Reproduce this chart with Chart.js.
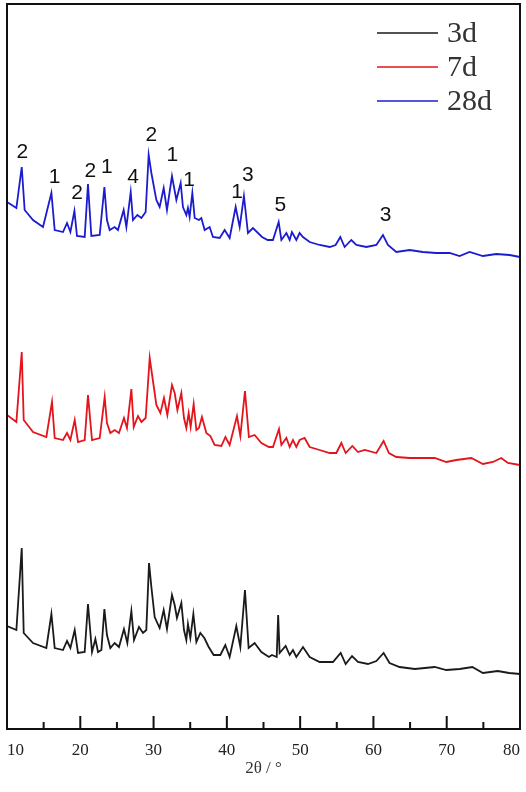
<!DOCTYPE html>
<html>
<head>
<meta charset="utf-8">
<script src="https://cdn.jsdelivr.net/npm/chart.js@4.4.1/dist/chart.umd.min.js"></script>
<style>
  html, body { margin: 0; padding: 0; background: #fff; }
  #wrap { width: 526px; height: 792px; }
</style>
</head>
<body>
<div id="wrap"><canvas id="chartXrd"></canvas></div>
<script>
// XRD patterns, curves stacked (intensity in a.u.)
const seriesLabels = ["3d", "7d", "28d"];
const seriesColors = ["#1a1a1a", "#e3141b", "#1c1ccf"];

const theta3d = [10, 11.28, 12.01, 12.28, 13.55, 15.37, 16.06, 16.51, 17.64, 18.19, 18.65, 19.24, 19.69, 20.6, 21.05, 21.6, 22.06, 22.42, 22.88, 23.29, 23.64, 24.1, 24.69, 25.28, 25.96, 26.42, 26.97, 27.33, 28.01, 28.56, 29.01, 29.38, 29.7, 30.15, 30.83, 31.38, 31.83, 32.51, 32.88, 33.19, 33.79, 34.15, 34.47, 34.69, 35.02, 35.43, 35.84, 36.38, 36.93, 37.52, 38.2, 39.11, 39.79, 40.38, 41.29, 41.84, 42.47, 42.97, 43.79, 44.71, 45.74, 46.15, 46.8, 47.0, 47.2, 48.02, 48.57, 49.02, 49.48, 50.39, 51.3, 52.66, 54.48, 55.53, 56.21, 57.08, 57.89, 59.25, 60.4, 61.39, 62.2, 63.57, 65.65, 68.35, 69.95, 71.77, 73.5, 74.94, 76.95, 78.53, 80];
const int3d = [103, 99, 181, 96, 86, 81, 115, 81, 79, 88, 81, 99, 76, 77, 125, 77, 90, 77, 79, 120, 94, 81, 86, 82, 100, 86, 118, 89, 102, 96, 99, 166, 142, 112, 101, 119, 100, 134, 124, 111, 126, 99, 89, 105, 91, 115, 87, 96, 91, 82, 74, 74, 84, 72, 103, 82, 139, 81, 86, 77, 72, 74, 72, 114, 76, 83, 74, 79, 72, 82, 72, 67, 67, 76, 65, 73, 67, 65, 68, 76, 66, 62, 60, 62, 59, 60, 62, 56, 58, 56, 55];

const theta7d = [10, 11.28, 12.01, 12.28, 13.55, 15.37, 16.14, 16.51, 17.64, 18.19, 18.65, 19.24, 19.69, 20.6, 21.05, 21.6, 22.65, 23.33, 23.64, 24.1, 24.69, 25.28, 25.96, 26.37, 26.97, 27.29, 27.87, 28.34, 28.92, 29.47, 29.84, 30.38, 30.93, 31.42, 31.88, 32.51, 32.88, 33.25, 33.79, 34.15, 34.47, 34.79, 35.06, 35.47, 35.84, 36.19, 36.6, 37.2, 37.75, 38.33, 39.25, 39.8, 40.38, 41.38, 41.84, 42.47, 43.01, 43.79, 44.71, 45.74, 46.29, 47.11, 47.44, 48.12, 48.57, 49.02, 49.48, 49.93, 50.61, 51.3, 52.66, 54.03, 54.94, 55.62, 56.21, 57.12, 57.89, 58.8, 60.4, 61.39, 62.11, 63.12, 64.94, 66.75, 68.35, 69.95, 71.31, 73.36, 74.94, 76.3, 77.45, 78.35, 80];
const int7d = [314, 307, 377, 309, 297, 292, 327, 291, 289, 296, 289, 309, 287, 289, 334, 289, 291, 332, 306, 296, 299, 296, 311, 301, 340, 302, 313, 307, 311, 371, 352, 324, 316, 331, 314, 344, 336, 319, 336, 311, 301, 316, 302, 325, 299, 301, 312, 296, 293, 284, 283, 292, 284, 313, 293, 338, 292, 294, 286, 282, 282, 300, 284, 291, 282, 289, 282, 289, 291, 282, 279, 276, 276, 286, 276, 283, 277, 279, 276, 288, 276, 272, 271, 271, 271, 267, 269, 271, 265, 267, 271, 266, 264];

const theta28d = [10, 11.28, 12.01, 12.41, 13.55, 14.91, 16.06, 16.51, 17.64, 18.19, 18.65, 19.2, 19.55, 20.6, 21.05, 21.51, 22.65, 23.29, 23.64, 24.01, 24.69, 25.14, 25.92, 26.29, 26.88, 27.19, 27.79, 28.34, 28.92, 29.33, 29.7, 30.38, 30.83, 31.38, 31.83, 32.51, 33.11, 33.7, 34.01, 34.47, 34.69, 34.92, 35.29, 35.61, 36.19, 36.52, 36.97, 37.65, 38.1, 39.02, 39.7, 40.38, 41.2, 41.75, 42.33, 42.88, 43.56, 44.8, 45.57, 46.29, 47.07, 47.44, 48.12, 48.57, 48.88, 49.48, 49.93, 50.38, 51.3, 52.66, 54.03, 54.84, 55.48, 56.07, 56.98, 57.67, 59.03, 60.4, 61.3, 61.98, 63.12, 64.94, 66.75, 68.58, 70.39, 71.76, 73.12, 74.94, 76.77, 78.58, 80];
const int28d = [527, 521, 562, 519, 509, 502, 536, 499, 497, 506, 497, 518, 493, 492, 545, 493, 494, 542, 509, 499, 502, 499, 519, 502, 537, 509, 514, 511, 517, 574, 556, 529, 522, 541, 519, 553, 529, 546, 522, 514, 521, 512, 536, 511, 509, 511, 499, 502, 492, 491, 499, 491, 522, 502, 533, 496, 501, 492, 489, 489, 507, 489, 496, 489, 497, 489, 496, 492, 487, 484, 482, 484, 492, 482, 489, 484, 482, 484, 494, 484, 477, 479, 477, 476, 476, 473, 477, 473, 475, 474, 472];

// phase labels above the 28d pattern
const peakTheta = [12.1, 16.5, 19.55, 21.38, 23.64, 27.19, 29.7, 32.56, 34.83, 41.38, 42.88, 47.3, 61.66];
const peakLevel = [577, 552, 536, 558, 562, 552, 594, 574, 549, 537, 554, 524, 514];
const peakText = ["2", "1", "2", "2", "1", "4", "2", "1", "1", "1", "3", "5", "3"];

const xTicksMajor = [10, 20, 30, 40, 50, 60, 70, 80];
const xTicksMinor = [15, 25, 35, 45, 55, 65, 75];

function pts(xs, ys) {
  return xs.map((x, i) => ({ x: x, y: ys[i] }));
}

const framePlugin = {
  id: "frame",
  afterDraw(chart) {
    const { ctx, chartArea: a, scales } = chart;
    const xs = scales.x;
    ctx.save();
    ctx.strokeStyle = "#111";
    ctx.lineWidth = 2;
    ctx.strokeRect(a.left, a.top, a.right - a.left, a.bottom - a.top);
    // inward tick marks
    ctx.beginPath();
    xTicksMajor.forEach(v => {
      const px = xs.getPixelForValue(v);
      ctx.moveTo(px, a.bottom);
      ctx.lineTo(px, a.bottom - 13);
    });
    xTicksMinor.forEach(v => {
      const px = xs.getPixelForValue(v);
      ctx.moveTo(px, a.bottom);
      ctx.lineTo(px, a.bottom - 7);
    });
    ctx.stroke();

    // peak labels
    ctx.fillStyle = "#111";
    ctx.font = "21px 'Liberation Sans', Arial, sans-serif";
    ctx.textAlign = "center";
    ctx.textBaseline = "middle";
    peakText.forEach((t, i) => {
      ctx.fillText(t, xs.getPixelForValue(peakTheta[i]), scales.y.getPixelForValue(peakLevel[i]));
    });

    // legend
    ctx.font = "30px 'Liberation Serif', 'Times New Roman', serif";
    ctx.textAlign = "left";
    chart.data.datasets.forEach((ds, i) => {
      const y = a.top + 29 + i * 34;
      ctx.strokeStyle = ds.borderColor;
      ctx.lineWidth = 1.3;
      ctx.beginPath();
      ctx.moveTo(a.right - 143, y);
      ctx.lineTo(a.right - 82, y);
      ctx.stroke();
      ctx.fillStyle = "#333";
      ctx.fillText(ds.label, a.right - 73, y + 1);
    });
    ctx.restore();
  }
};

const ctx = document.getElementById("chartXrd").getContext("2d");
const chart = new Chart(ctx, {
  type: "line",
  data: {
    datasets: [
      { label: seriesLabels[0], data: pts(theta3d, int3d), borderColor: seriesColors[0] },
      { label: seriesLabels[1], data: pts(theta7d, int7d), borderColor: seriesColors[1] },
      { label: seriesLabels[2], data: pts(theta28d, int28d), borderColor: seriesColors[2] }
    ]
  },
  options: {
    responsive: true,
    maintainAspectRatio: false,
    animation: false,
    layout: { padding: { top: 4, left: 7, right: 6, bottom: 11 } },
    elements: {
      line: { borderWidth: 1.8, tension: 0 },
      point: { radius: 0 }
    },
    scales: {
      x: {
        type: "linear",
        min: 10,
        max: 80,
        grid: { display: false, drawTicks: false },
        border: { display: false },
        afterFit: s => { s.paddingLeft = 0; s.paddingRight = 0; s.height = 52; },
        ticks: {
          stepSize: 10,
          align: "inner",
          padding: 13,
          color: "#222",
          font: { family: "'Liberation Serif', 'Times New Roman', serif", size: 17, lineHeight: 1.0 }
        },
        title: {
          display: true,
          text: "2θ / °",
          color: "#333",
          padding: { top: 0, bottom: 2 },
          font: { family: "'Liberation Serif', 'Times New Roman', serif", size: 17 }
        }
      },
      y: {
        display: false,
        min: 0,
        max: 725
      }
    },
    plugins: {
      legend: { display: false },
      tooltip: { enabled: false }
    }
  },
  plugins: [framePlugin]
});
</script>
</body>
</html>
